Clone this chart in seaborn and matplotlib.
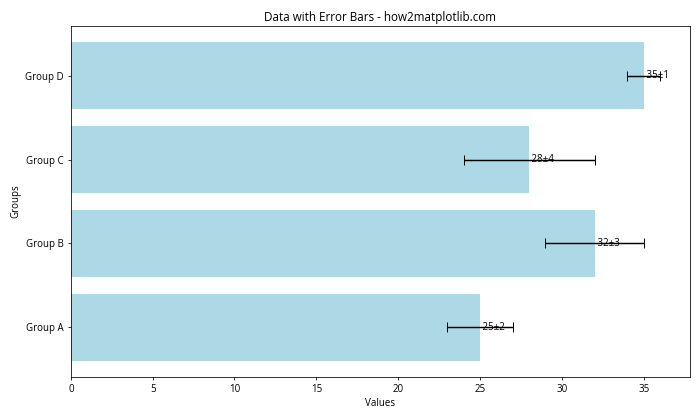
import matplotlib
matplotlib.use("Agg")
import matplotlib.pyplot as plt
import seaborn as sns
import pandas as pd

categories = ["Group A", "Group B", "Group C", "Group D"]
values = [25, 32, 28, 35]
errors = [2, 3, 4, 1]

plt.rcParams["font.family"] = ["Open Sans", "DejaVu Sans"]

df = pd.DataFrame({"Groups": categories, "Values": values, "err": errors})
order = categories[::-1]

fig, ax = plt.subplots(figsize=(10, 6), dpi=70)
sns.barplot(data=df, x="Values", y="Groups", order=order, color="lightblue",
            saturation=1, width=0.8, ax=ax, orient="h")
for i, g in enumerate(order):
    row = df[df["Groups"] == g].iloc[0]
    ax.errorbar(row["Values"], i, xerr=row["err"], fmt="none", ecolor="black",
                capsize=5)
    ax.text(row["Values"], i, f" {row['Values']}±{row['err']}", ha="left", va="center")

ax.set_ylim(3.59, -0.59)
ax.set_xlim(0, 37.8)
ax.set_title("Data with Error Bars - how2matplotlib.com")
ax.set_xlabel("Values")
ax.set_ylabel("Groups")
for s in ax.spines.values():
    s.set_visible(True)
fig.tight_layout()
fig.savefig("out.png")
